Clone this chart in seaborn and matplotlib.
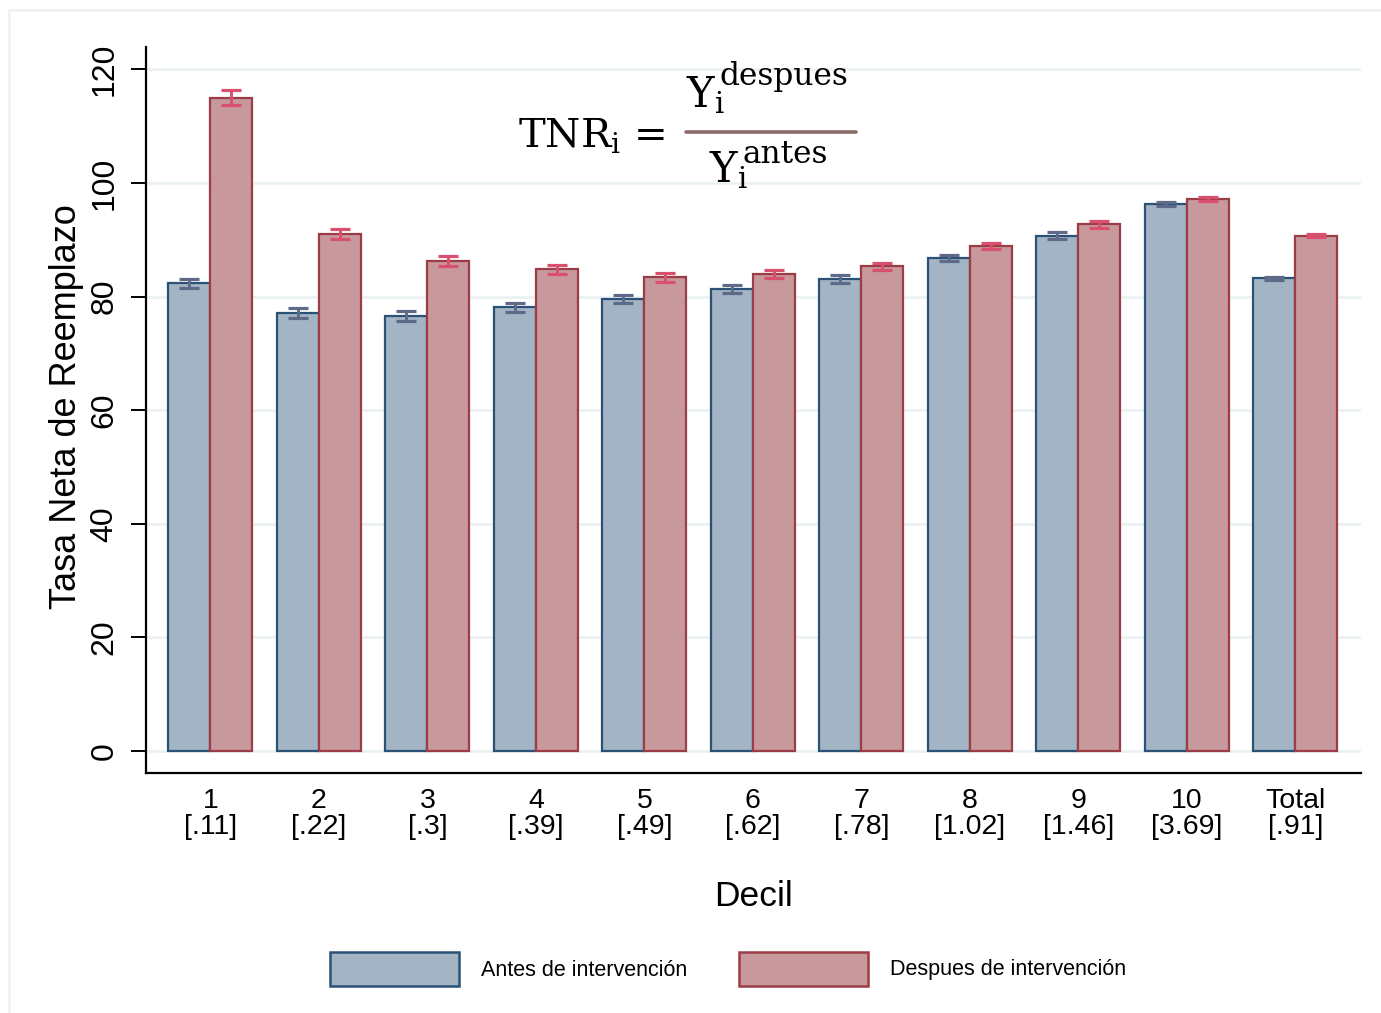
import matplotlib
matplotlib.use("Agg")
import matplotlib.pyplot as plt
from matplotlib import font_manager
from matplotlib.patches import Rectangle
from matplotlib.lines import Line2D
import seaborn as sns
import pandas as pd
import numpy as np

# ---------------- data ----------------
deciles = ["1", "2", "3", "4", "5", "6", "7", "8", "9", "10", "Total"]
ingresos = ["[.11]", "[.22]", "[.3]", "[.39]", "[.49]", "[.62]", "[.78]", "[1.02]", "[1.46]", "[3.69]", "[.91]"]
antes = [82.3, 77.1, 76.6, 78.1, 79.5, 81.3, 83.1, 86.8, 90.7, 96.3, 83.2]
despues = [115.0, 91.0, 86.2, 84.8, 83.4, 83.9, 85.3, 88.9, 92.7, 97.2, 90.7]
antes_err = [0.8, 0.85, 0.85, 0.8, 0.7, 0.7, 0.65, 0.6, 0.6, 0.35, 0.25]
despues_err = [1.3, 0.95, 0.9, 0.8, 0.75, 0.7, 0.65, 0.6, 0.6, 0.4, 0.25]
series = ["Antes de intervención", "Despues de intervención"]
yticks = [0, 20, 40, 60, 80, 100, 120]

# ---------------- style ----------------
sns.set_theme(style="white")
names = {f.name for f in font_manager.fontManager.ttflist}
narrow = "Liberation Sans Narrow" in names
plt.rcParams["font.family"] = ["Liberation Sans", "DejaVu Sans"]
plt.rcParams["mathtext.fontset"] = "dejavuserif"
for k in ["text.color", "axes.labelcolor", "xtick.color", "ytick.color"]:
    plt.rcParams[k] = "black"

fill_c = ["#a3b4c4", "#c8999c"]
edge_c = ["#2b5276", "#9b3c46"]
err_c = ["#5e6a87", "#d9506f"]

W, H = 1381, 1013
fig = plt.figure(figsize=(W / 100, H / 100), dpi=100)
fig.patch.set_facecolor("white")

def fx(px):
    return px / W

def fy(py):
    return 1 - py / H

ax = fig.add_axes([fx(146), fy(773), fx(1361) - fx(146), fy(47) - fy(773)])
ax.set_facecolor("white")

df = pd.DataFrame({
    "Decil": deciles * 2,
    "TNR": antes + despues,
    "Grupo": [series[0]] * len(deciles) + [series[1]] * len(deciles),
})

sns.barplot(data=df, x="Decil", y="TNR", hue="Grupo", order=deciles,
            hue_order=series, palette=fill_c, errorbar=None, width=0.774,
            gap=0, legend=False, ax=ax, zorder=3, saturation=1)

errs = [antes_err, despues_err]
bar_conts = list(ax.containers)
for i, cont in enumerate(bar_conts):
    xs, hs = [], []
    for bar in cont:
        bar.set_edgecolor(edge_c[i])
        bar.set_linewidth(1.6)
        xs.append(bar.get_x() + bar.get_width() / 2)
        hs.append(bar.get_height())
    ax.errorbar(xs, hs, yerr=errs[i], fmt="none", ecolor=err_c[i],
                elinewidth=2.1, capsize=7, capthick=2.3, zorder=4)

ax.set_xlim(-0.593, 10.605)
ax.set_ylim(-3.87, 123.93)
ax.set_yticks(yticks)
ax.yaxis.grid(True, color="#e9f0f2", linewidth=1.8, zorder=0)
ax.xaxis.grid(False)
ax.set_axisbelow(True)
for s in ["top", "right"]:
    ax.spines[s].set_visible(False)
for s in ["left", "bottom"]:
    ax.spines[s].set_color("black")
    ax.spines[s].set_linewidth(1.6)

tick_family = ["Liberation Sans Narrow", "Liberation Sans"] if narrow else ["Liberation Sans"]
ysize = 26 if narrow else 23
xsize = 23 if narrow else 20.5

ax.tick_params(axis="y", which="major", direction="out", length=11, width=1.4,
               color="black", pad=8, labelsize=ysize, left=True)
ax.tick_params(axis="x", which="major", length=0, pad=11, labelsize=xsize)
ax.set_yticklabels([str(t) for t in yticks], rotation=90, va="center",
                   family=tick_family)
ax.set_xticks(range(len(deciles)))
ax.set_xticklabels([f"{d}\n{g}" for d, g in zip(deciles, ingresos)],
                   family=tick_family, linespacing=1.0)
ax.set_xlabel("")
ax.set_ylabel("")

fig.text(fx(67), fy(407), "Tasa Neta de Reemplazo", rotation=90, ha="center",
         va="center", fontsize=26, color="black")
fig.text(fx(753), fy(896), "Decil", ha="center", va="center", fontsize=25.5,
         color="black")

# ---------------- legend ----------------
leg_items = [(330, 481, 0), (739, 890, 1)]
for px, tx, i in leg_items:
    fig.patches.append(Rectangle((fx(px), fy(986)), fx(129), fy(952) - fy(986),
                                 transform=fig.transFigure, facecolor=fill_c[i],
                                 edgecolor=edge_c[i], linewidth=1.8))
    fig.text(fx(tx), fy(970), series[i], ha="left", va="center", fontsize=15.5,
             color="black")

# ---------------- formula ----------------
serif = "DejaVu Serif"
fig.text(fx(518), fy(147), r"$\mathrm{TNR}_{\mathrm{i}}$ =", family=serif,
         fontsize=29, ha="left", va="baseline", color="black")
# numerator
fig.text(fx(686), fy(107), r"$\mathrm{Y}_{\mathrm{i}}$",
         family=serif, fontsize=30, ha="left", va="baseline", color="black")
fig.text(fx(719), fy(85), "despues", family=serif, fontsize=22.5, ha="left",
         va="baseline", color="black")
# denominator
fig.text(fx(709), fy(182), r"$\mathrm{Y}_{\mathrm{i}}$",
         family=serif, fontsize=30, ha="left", va="baseline", color="black")
fig.text(fx(743), fy(163), "antes", family=serif, fontsize=22.5, ha="left",
         va="baseline", color="black")
fig.lines.append(Line2D([fx(686), fx(856)], [fy(132), fy(132)],
                        transform=fig.transFigure, color="#8b6b6a",
                        linewidth=2.6))

# ---------------- outer frame ----------------
fig.lines.append(Line2D([fx(9), fx(9)], [fy(10), fy(1013)], transform=fig.transFigure,
                        color="#eef2f5", linewidth=2))
fig.lines.append(Line2D([fx(9), fx(1381)], [fy(10), fy(10)], transform=fig.transFigure,
                        color="#eef2f5", linewidth=2))

fig.savefig("out.png", dpi=100, facecolor="white")
